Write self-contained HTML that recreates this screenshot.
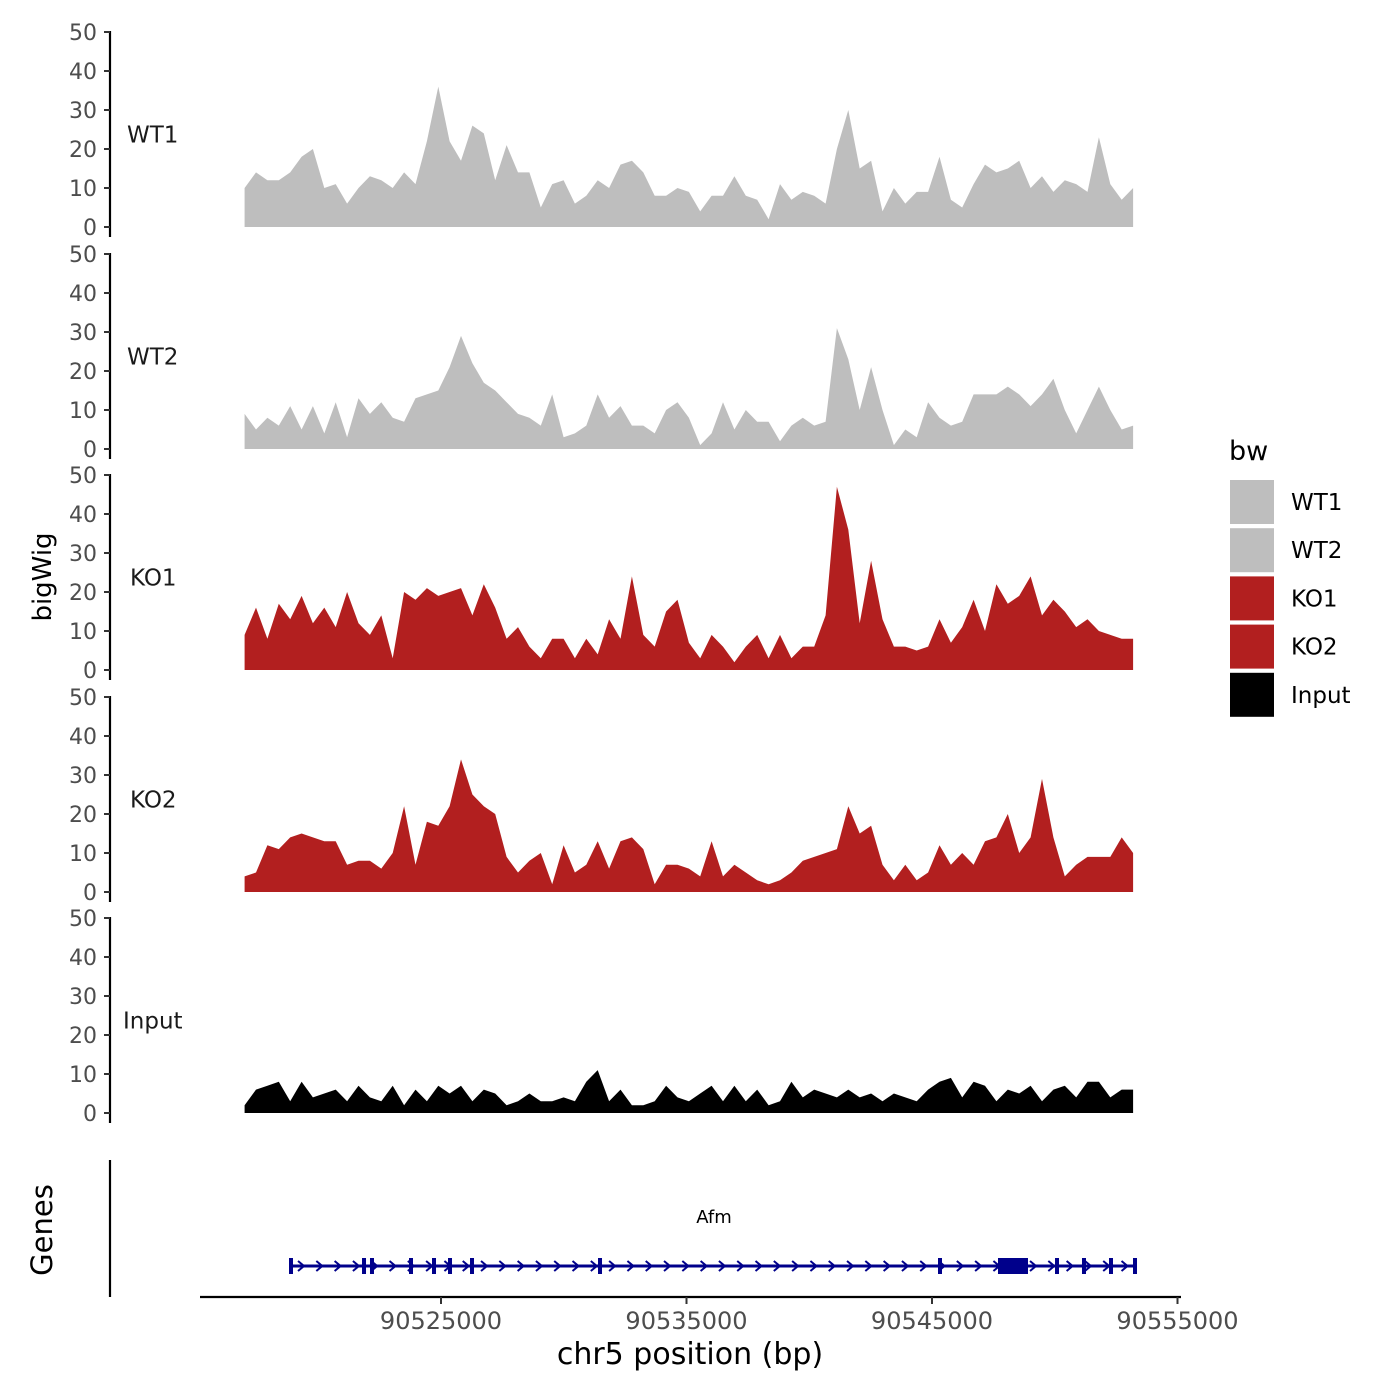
<!DOCTYPE html>
<html><head><meta charset="utf-8"><style>
html,body{margin:0;padding:0;background:#fff;}
svg{display:block;font-family:"DejaVu Sans","Liberation Sans",sans-serif;}
</style></head><body>
<svg id="chart" width="1400" height="1400" viewBox="0 0 1400 1400"></svg>
<script>
const startBp = 90517000;
const binBp = 464;
const trackNames = ["WT1","WT2","KO1","KO2","Input"];
const trackColors = ["#bebebe","#bebebe","#b21f1f","#b21f1f","#000000"];
const yTicks = [0,10,20,30,40,50];
const xTicks = [90525000,90535000,90545000,90555000];
const wt1 = [10,14,12,12,14,18,20,10,11,6,10,13,12,10,14,11,22,36,22,17,26,24,12,21,14,14,5,11,12,6,8,12,10,16,17,14,8,8,10,9,4,8,8,13,8,7,2,11,7,9,8,6,20,30,15,17,4,10,6,9,9,18,7,5,11,16,14,15,17,10,13,9,12,11,9,23,11,7,10];
const wt2 = [9,5,8,6,11,5,11,4,12,3,13,9,12,8,7,13,14,15,21,29,22,17,15,12,9,8,6,14,3,4,6,14,8,11,6,6,4,10,12,8,1,4,12,5,10,7,7,2,6,8,6,7,31,23,10,21,10,1,5,3,12,8,6,7,14,14,14,16,14,11,14,18,10,4,10,16,10,5,6];
const ko1 = [9,16,8,17,13,19,12,16,11,20,12,9,14,3,20,18,21,19,20,21,14,22,16,8,11,6,3,8,8,3,8,4,13,8,24,9,6,15,18,7,3,9,6,2,6,9,3,9,3,6,6,14,47,36,12,28,13,6,6,5,6,13,7,11,18,10,22,17,19,24,14,18,15,11,13,10,9,8,8];
const ko2 = [4,5,12,11,14,15,14,13,13,7,8,8,6,10,22,7,18,17,22,34,25,22,20,9,5,8,10,2,12,5,7,13,6,13,14,11,2,7,7,6,4,13,4,7,5,3,2,3,5,8,9,10,11,22,15,17,7,3,7,3,5,12,7,10,7,13,14,20,10,14,29,14,4,7,9,9,9,14,10];
const inputTrack = [2,6,7,8,3,8,4,5,6,3,7,4,3,7,2,6,3,7,5,7,3,6,5,2,3,5,3,3,4,3,8,11,3,6,2,2,3,7,4,3,5,7,3,7,3,6,2,3,8,4,6,5,4,6,4,5,3,5,4,3,6,8,9,4,8,7,3,6,5,7,3,6,7,4,8,8,4,6,6];
const geneStart = 90518809, geneEnd = 90553350;
const exonPos = [90518890,90521864,90522189,90523778,90524715,90525367,90526263,90531477,90545326,90550092,90551191,90552291,90553269];
const bigExon = [90547688,90548910];

const NS="http://www.w3.org/2000/svg";
const svg=document.getElementById('chart');
function mk(tag,attrs,parent){const e=document.createElementNS(NS,tag);for(const k in attrs)e.setAttribute(k,attrs[k]);(parent||svg).appendChild(e);return e;}
function xS(bp){return 441+(bp-90525000)/1000*24.55;}
const panelBase=[227,449,670,892,1113];
function yS(p,v){return panelBase[p]-v*3.9;}
const series=[wt1,wt2,ko1,ko2,inputTrack];

series.forEach((vals,p)=>{
  const g=mk('g',{});
  
  
  let d='M'+xS(startBp)+','+yS(p,0);
  vals.forEach((v,i)=>{d+=' L'+xS(startBp+i*binBp).toFixed(1)+','+yS(p,v).toFixed(1);});
  d+=' L'+xS(startBp+(vals.length-1)*binBp).toFixed(1)+','+yS(p,0)+' Z';
  const a=mk('path',{d:d,fill:trackColors[p]},g);
  
  
  const ax=mk('line',{x1:110,x2:110,y1:yS(p,50)-1,y2:yS(p,0)+10,stroke:'#000','stroke-width':2.2},g);
  
  
  yTicks.forEach(t=>{
    mk('line',{x1:104,x2:110,y1:yS(p,t),y2:yS(p,t),stroke:'#333','stroke-width':2},g);
    const tx=mk('text',{x:97,y:yS(p,t)+8,'text-anchor':'end','font-size':22,fill:'#4d4d4d'},g);
    tx.textContent=t;
    
    
  });
  const lb=mk('text',{x:p===4?123:(p>=2?130:127),y:yS(p,25)+13,'font-size':23,fill:'#1a1a1a'},g);
  lb.textContent=trackNames[p];
  
  
});

const yt=mk('text',{x:0,y:0,transform:'translate(51,577) rotate(-90)','text-anchor':'middle','font-size':26,fill:'#000'});
yt.textContent='bigWig';



const gt=mk('text',{x:0,y:0,transform:'translate(52,1230) rotate(-90)','text-anchor':'middle','font-size':29,fill:'#000'});
gt.textContent='Genes';


const gax=mk('line',{x1:110,x2:110,y1:1160,y2:1297,stroke:'#000','stroke-width':2.2});



const gg=mk('g',{});


const gy=1266;
mk('line',{x1:xS(geneStart),x2:xS(geneEnd),y1:gy,y2:gy,stroke:'#00008b','stroke-width':3},gg);
for(let x=xS(geneStart)+12;x<xS(geneEnd)-4;x+=18.3){
  mk('path',{d:`M${x-3},${gy-5} L${x+3},${gy} L${x-3},${gy+5}`,fill:'none',stroke:'#00008b','stroke-width':2},gg);
}
exonPos.forEach(bp=>{mk('rect',{x:xS(bp)-2,y:gy-8,width:4,height:16,fill:'#00008b'},gg);});
mk('rect',{x:xS(bigExon[0]),y:gy-8,width:xS(bigExon[1])-xS(bigExon[0]),height:16,fill:'#00008b'},gg);
const gl=mk('text',{x:714,y:1223,'text-anchor':'middle','font-size':18,fill:'#000'},gg);
gl.textContent='Afm';



const xa=mk('line',{x1:200,x2:1181,y1:1297,y2:1297,stroke:'#000','stroke-width':2.2});


xTicks.forEach(t=>{
  mk('line',{x1:xS(t),x2:xS(t),y1:1297,y2:1304,stroke:'#333','stroke-width':2});
  const tx=mk('text',{x:xS(t),y:1329,'text-anchor':'middle','font-size':24,fill:'#4d4d4d'});
  tx.textContent=t;
  
  
});
const xt=mk('text',{x:690,y:1364,'text-anchor':'middle','font-size':30,fill:'#000'});
xt.textContent='chr5 position (bp)';



const lg=mk('g',{});


const lt=mk('text',{x:1229,y:460,'font-size':27,fill:'#000'},lg);
lt.textContent='bw';


trackNames.forEach((n,i)=>{
  const y=480+i*48.2;
  const e=mk('g',{},lg);
  
  
  mk('rect',{x:1230,y:y,width:44,height:44,fill:trackColors[i]},e);
  const t=mk('text',{x:1291,y:y+30,'font-size':23,fill:'#000'},e);
  t.textContent=n;
});
</script>
</body></html>
